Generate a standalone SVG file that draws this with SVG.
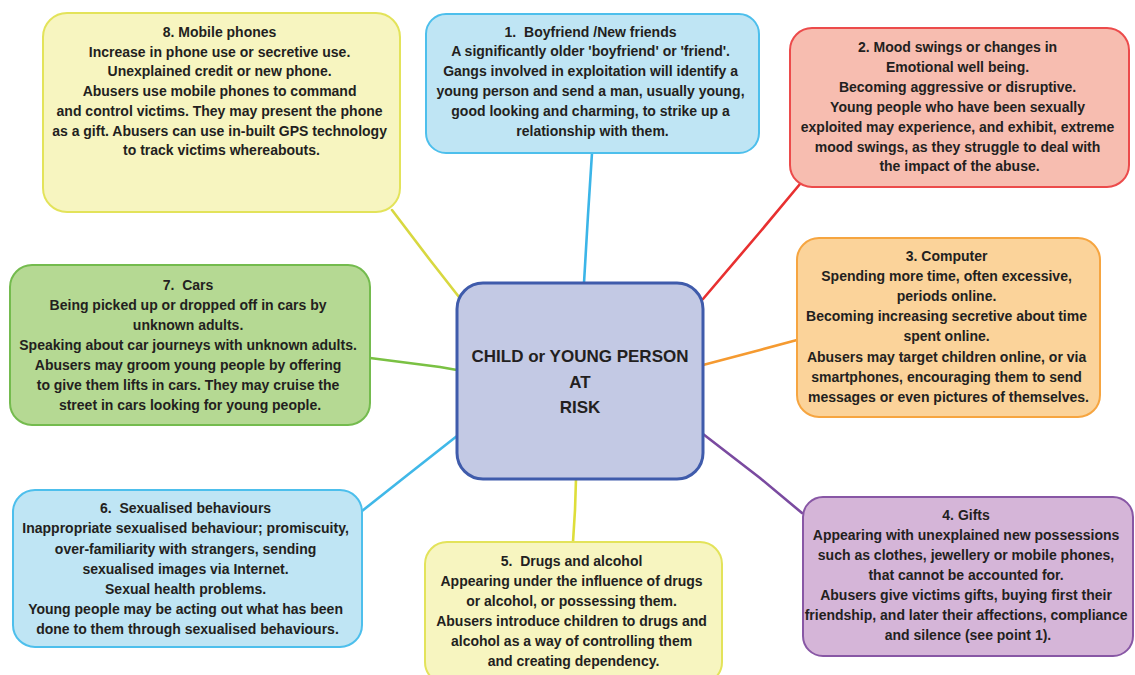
<svg xmlns="http://www.w3.org/2000/svg" width="1135" height="675" viewBox="0 0 1135 675">
<style>
  .box { stroke-width: 2; }
  .t { font-family: "Liberation Sans", Arial, sans-serif; font-weight: bold; font-size: 14px; fill: #231f20; text-anchor: middle; }
  .ct { font-family: "Liberation Sans", Arial, sans-serif; font-weight: bold; font-size: 17px; fill: #231f20; text-anchor: middle; }
  .c { fill: none; stroke-width: 2.6; stroke-linecap: round; stroke-linejoin: round; }
</style>
<rect width="1135" height="675" fill="#ffffff"/>
<g id="connectors">
  <polyline class="c" stroke="#3bb5e8" points="592,153 588,215 584,283"/>
  <polyline class="c" stroke="#e83030" points="703,299 760,232 800,184"/>
  <polyline class="c" stroke="#f59a30" points="703,365 760,350 797,340"/>
  <polyline class="c" stroke="#7a4aa0" points="703,434 760,478 802,513"/>
  <polyline class="c" stroke="#dede3a" points="576,479 575,510 573,542"/>
  <polyline class="c" stroke="#40b8e8" points="457,436 410,473 362,511"/>
  <polyline class="c" stroke="#7ac143" points="370,358 440,367 457,370"/>
  <polyline class="c" stroke="#d8d840" points="392,210 430,260 459,297"/>
</g>
<g id="center">
  <rect x="457" y="283" width="246" height="196" rx="26" fill="#c3c9e4" stroke="#3f5bab" stroke-width="3"/>
  <text class="ct"><tspan x="580" y="362">CHILD or YOUNG PERSON</tspan><tspan x="580" y="388">AT</tspan><tspan x="580" y="413">RISK</tspan></text>
</g>
<g id="node8">
  <rect class="box" x="43" y="13" width="357" height="199" rx="24" fill="#f7f5c0" stroke="#e3e35a"/>
  <text class="t">
    <tspan x="221.5" y="37">8. Mobile phones</tspan>
    <tspan x="221.5" y="56.7">Increase in phone use or secretive use.</tspan>
    <tspan x="221.5" y="76.4">Unexplained credit or new phone.</tspan>
    <tspan x="221.5" y="96.1">Abusers use mobile phones to command</tspan>
    <tspan x="221.5" y="115.8">and control victims. They may present the phone</tspan>
    <tspan x="221.5" y="135.5">as a gift. Abusers can use in-built GPS technology</tspan>
    <tspan x="221.5" y="155.2">to track victims whereabouts.</tspan>
  </text>
</g>
<g id="node1">
  <rect class="box" x="426" y="14" width="333" height="139" rx="20" fill="#bfe5f4" stroke="#4dbfec"/>
  <text class="t">
    <tspan x="592.5" y="36.5">1.&#160; Boyfriend /New friends</tspan>
    <tspan x="592.5" y="56.3">A significantly older 'boyfriend' or 'friend'.</tspan>
    <tspan x="592.5" y="76.1">Gangs involved in exploitation will identify a</tspan>
    <tspan x="592.5" y="95.9">young person and send a man, usually young,</tspan>
    <tspan x="592.5" y="115.7">good looking and charming, to strike up a</tspan>
    <tspan x="592.5" y="135.5">relationship with them.</tspan>
  </text>
</g>
<g id="node2">
  <rect class="box" x="790" y="28" width="339" height="159" rx="22" fill="#f7bdb0" stroke="#ec4b4b"/>
  <text class="t">
    <tspan x="959.5" y="52">2. Mood swings or changes in</tspan>
    <tspan x="959.5" y="72">Emotional well being.</tspan>
    <tspan x="959.5" y="92">Becoming aggressive or disruptive.</tspan>
    <tspan x="959.5" y="112">Young people who have been sexually</tspan>
    <tspan x="959.5" y="132">exploited may experience, and exhibit, extreme</tspan>
    <tspan x="959.5" y="151.5">mood swings, as they struggle to deal with</tspan>
    <tspan x="959.5" y="171">the impact of the abuse.</tspan>
  </text>
</g>
<g id="node3">
  <rect class="box" x="797" y="238" width="303" height="179" rx="22" fill="#fbd39a" stroke="#f6a540"/>
  <text class="t">
    <tspan x="948.5" y="261">3. Computer</tspan>
    <tspan x="948.5" y="281">Spending more time, often excessive,</tspan>
    <tspan x="948.5" y="301">periods online.</tspan>
    <tspan x="948.5" y="321">Becoming increasing secretive about time</tspan>
    <tspan x="948.5" y="341">spent online.</tspan>
    <tspan x="948.5" y="361.5">Abusers may target children online, or via</tspan>
    <tspan x="948.5" y="381.5">smartphones, encouraging them to send</tspan>
    <tspan x="948.5" y="401.5">messages or even pictures of themselves.</tspan>
  </text>
</g>
<g id="node4">
  <rect class="box" x="803" y="497" width="330" height="159" rx="20" fill="#d5b5d8" stroke="#8857a5"/>
  <text class="t">
    <tspan x="968" y="520">4. Gifts</tspan>
    <tspan x="968" y="540">Appearing with unexplained new possessions</tspan>
    <tspan x="968" y="560">such as clothes, jewellery or mobile phones,</tspan>
    <tspan x="968" y="580">that cannot be accounted for.</tspan>
    <tspan x="968" y="600">Abusers give victims gifts, buying first their</tspan>
    <tspan x="968" y="620">friendship, and later their affections, compliance</tspan>
    <tspan x="968" y="640">and silence (see point 1).</tspan>
  </text>
</g>
<g id="node5">
  <rect class="box" x="425" y="542" width="297" height="142" rx="22" fill="#f7f5c0" stroke="#e3e35a"/>
  <text class="t">
    <tspan x="573.5" y="566">5.&#160; Drugs and alcohol</tspan>
    <tspan x="573.5" y="586">Appearing under the influence of drugs</tspan>
    <tspan x="573.5" y="606">or alcohol, or possessing them.</tspan>
    <tspan x="573.5" y="626">Abusers introduce children to drugs and</tspan>
    <tspan x="573.5" y="646">alcohol as a way of controlling them</tspan>
    <tspan x="573.5" y="665.5">and creating dependency.</tspan>
  </text>
</g>
<g id="node6">
  <rect class="box" x="13" y="490" width="349" height="157" rx="22" fill="#bfe5f4" stroke="#4dbfec"/>
  <text class="t">
    <tspan x="187.5" y="513">6.&#160; Sexualised behaviours</tspan>
    <tspan x="187.5" y="533">Inappropriate sexualised behaviour; promiscuity,</tspan>
    <tspan x="187.5" y="553.5">over-familiarity with strangers, sending</tspan>
    <tspan x="187.5" y="573.5">sexualised images via Internet.</tspan>
    <tspan x="187.5" y="594">Sexual health problems.</tspan>
    <tspan x="187.5" y="614">Young people may be acting out what has been</tspan>
    <tspan x="187.5" y="634">done to them through sexualised behaviours.</tspan>
  </text>
</g>
<g id="node7">
  <rect class="box" x="10" y="265" width="360" height="160" rx="22" fill="#b5d993" stroke="#74bb4e"/>
  <text class="t">
    <tspan x="190" y="290">7.&#160; Cars</tspan>
    <tspan x="190" y="310">Being picked up or dropped off in cars by</tspan>
    <tspan x="190" y="330">unknown adults.</tspan>
    <tspan x="190" y="350">Speaking about car journeys with unknown adults.</tspan>
    <tspan x="190" y="370">Abusers may groom young people by offering</tspan>
    <tspan x="190" y="390">to give them lifts in cars. They may cruise the</tspan>
    <tspan x="190" y="409.5">street in cars looking for young people.</tspan>
  </text>
</g>
</svg>
